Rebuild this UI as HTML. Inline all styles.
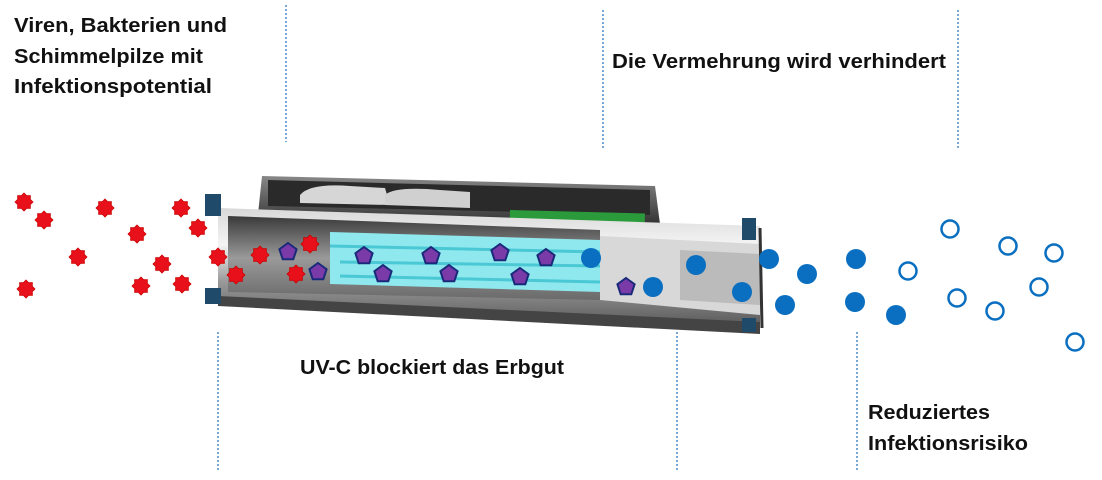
<!DOCTYPE html>
<html><head><meta charset="utf-8"><style>
html,body{margin:0;padding:0;background:#fff;}
svg{display:block}
text{font-family:"Liberation Sans",sans-serif;font-weight:bold;font-size:20px;fill:#111;}
</style></head><body>
<svg width="1102" height="480" viewBox="0 0 1102 480" xmlns="http://www.w3.org/2000/svg">
<defs>
<polygon id="star" points="0,-9 2.6,-6.3 6.4,-6.4 6.3,-2.6 9,0 6.3,2.6 6.4,6.4 2.6,6.3 0,9 -2.6,6.3 -6.4,6.4 -6.3,2.6 -9,0 -6.3,-2.6 -6.4,-6.4 -2.6,-6.3" fill="#e8101a" stroke="#c00" stroke-width="0.8"/>
<polygon id="pent" points="0,-9 8.6,-2.8 5.3,7.3 -5.3,7.3 -8.6,-2.8" fill="#7a3aa8" stroke="#1a2a7a" stroke-width="2"/>
<linearGradient id="tube" x1="0" y1="0" x2="0" y2="1">
<stop offset="0" stop-color="#d8d8d8"/><stop offset="0.3" stop-color="#f4f4f4"/><stop offset="0.6" stop-color="#9a9a9a"/><stop offset="1" stop-color="#555"/></linearGradient>
<linearGradient id="box" x1="0" y1="0" x2="0" y2="1">
<stop offset="0" stop-color="#888"/><stop offset="1" stop-color="#333"/></linearGradient>
<linearGradient id="inner" x1="0" y1="0" x2="0" y2="1">
<stop offset="0" stop-color="#3a3a3a"/><stop offset="0.5" stop-color="#9a9a9a"/><stop offset="1" stop-color="#6a6a6a"/></linearGradient>
</defs>
<g stroke="#4a8cc8" stroke-width="1.5" stroke-dasharray="2,2">
<line x1="286" y1="5" x2="286" y2="142"/><line x1="603" y1="10" x2="603" y2="148"/><line x1="958" y1="10" x2="958" y2="148"/>
<line x1="218" y1="332" x2="218" y2="470"/><line x1="677" y1="332" x2="677" y2="470"/><line x1="857" y1="332" x2="857" y2="470"/>
</g>
<polygon points="262,176 655,186 660,224 258,214" fill="url(#box)"/>
<polygon points="268,180 650,190 650,215 268,206" fill="#2a2a2a"/>
<path d="M300,195 Q310,183 350,186 L385,188 L390,205 L300,203Z" fill="#d6d6d6"/>
<path d="M385,195 Q395,186 440,190 L470,192 L470,208 L385,205Z" fill="#d0d0d0"/>
<rect x="510" y="210" width="135" height="10" fill="#2a9a3a" transform="rotate(1.5 510 210)"/>
<polygon points="218,208 760,226 760,330 218,300" fill="url(#tube)"/>
<polygon points="228,216 600,230 600,300 228,292" fill="url(#inner)"/>
<polygon points="330,232 600,240 600,292 330,284" fill="#8fe8ee"/>
<g stroke="#4ac8d4" stroke-width="3"><line x1="330" y1="246" x2="600" y2="252"/><line x1="340" y1="262" x2="600" y2="266"/><line x1="340" y1="276" x2="600" y2="282"/></g>
<polygon points="600,236 760,244 760,315 600,300" fill="#d8d8d8"/>
<polygon points="680,250 760,254 760,305 680,300" fill="#bbb"/>
<polygon points="218,296 760,322 760,334 218,306" fill="#444"/>
<rect x="205" y="194" width="16" height="22" fill="#1f4a6a"/><rect x="205" y="288" width="16" height="16" fill="#1f4a6a"/>
<rect x="742" y="218" width="14" height="22" fill="#1f4a6a"/><rect x="742" y="318" width="14" height="14" fill="#1f4a6a"/>
<line x1="760" y1="228" x2="762" y2="328" stroke="#333" stroke-width="3"/>
<g>
<use href="#star" x="24" y="202"/><use href="#star" x="44" y="220"/><use href="#star" x="105" y="208"/><use href="#star" x="181" y="208"/>
<use href="#star" x="137" y="234"/><use href="#star" x="198" y="228"/><use href="#star" x="78" y="257"/><use href="#star" x="162" y="264"/>
<use href="#star" x="26" y="289"/><use href="#star" x="141" y="286"/><use href="#star" x="182" y="284"/><use href="#star" x="218" y="257"/>
<use href="#star" x="236" y="275"/><use href="#star" x="260" y="255"/><use href="#star" x="296" y="274"/><use href="#star" x="310" y="244"/>
</g>
<g>
<use href="#pent" x="288" y="252"/><use href="#pent" x="318" y="272"/><use href="#pent" x="364" y="256"/><use href="#pent" x="383" y="274"/>
<use href="#pent" x="431" y="256"/><use href="#pent" x="449" y="274"/><use href="#pent" x="500" y="253"/><use href="#pent" x="520" y="277"/>
<use href="#pent" x="546" y="258"/><use href="#pent" x="626" y="287"/>
</g>
<g fill="#0a6fc0">
<circle cx="591" cy="258" r="10"/><circle cx="653" cy="287" r="10"/><circle cx="696" cy="265" r="10"/><circle cx="742" cy="292" r="10"/>
<circle cx="769" cy="259" r="10"/><circle cx="785" cy="305" r="10"/><circle cx="807" cy="274" r="10"/><circle cx="856" cy="259" r="10"/>
<circle cx="855" cy="302" r="10"/><circle cx="896" cy="315" r="10"/>
</g>
<g fill="none" stroke="#0a6fc0" stroke-width="2.5">
<circle cx="950" cy="229" r="8.5"/><circle cx="1008" cy="246" r="8.5"/><circle cx="1054" cy="253" r="8.5"/><circle cx="908" cy="271" r="8.5"/>
<circle cx="957" cy="298" r="8.5"/><circle cx="995" cy="311" r="8.5"/><circle cx="1039" cy="287" r="8.5"/><circle cx="1075" cy="342" r="8.5"/>
</g>
<text x="14" y="32" textLength="213" lengthAdjust="spacingAndGlyphs">Viren, Bakterien und</text>
<text x="14" y="63" textLength="189" lengthAdjust="spacingAndGlyphs">Schimmelpilze mit</text>
<text x="14" y="93" textLength="198" lengthAdjust="spacingAndGlyphs">Infektionspotential</text>
<text x="612" y="68" textLength="334" lengthAdjust="spacingAndGlyphs">Die Vermehrung wird verhindert</text>
<text x="300" y="374" textLength="264" lengthAdjust="spacingAndGlyphs">UV-C blockiert das Erbgut</text>
<text x="868" y="419" textLength="122" lengthAdjust="spacingAndGlyphs">Reduziertes</text>
<text x="868" y="450" textLength="160" lengthAdjust="spacingAndGlyphs">Infektionsrisiko</text>
</svg>
</body></html>
